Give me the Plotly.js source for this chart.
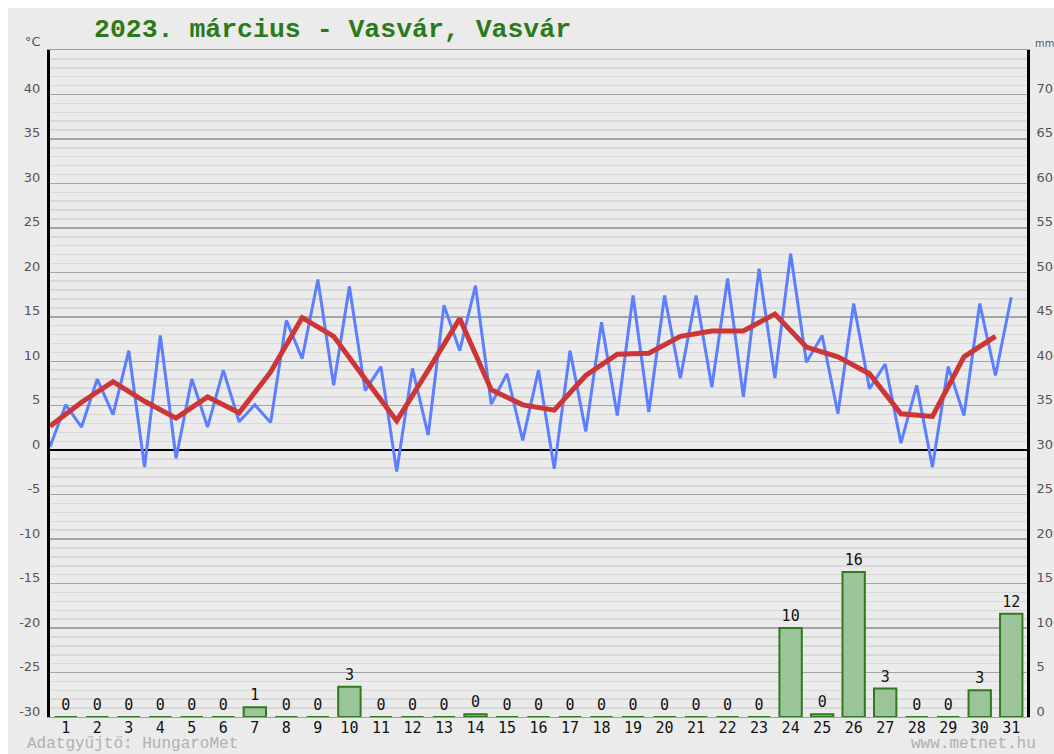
<!DOCTYPE html>
<html>
<head>
<meta charset="utf-8">
<script src="https://cdn.plot.ly/plotly-3.0.1.min.js"></script>
<style>
html,body{margin:0;padding:0;background:#ffffff;}
#chart{position:absolute;left:8px;top:8px;width:1046px;height:746px;}
</style>
</head>
<body>
<div id="chart"></div>
<script>
// Data
const days = [1,2,3,4,5,6,7,8,9,10,11,12,13,14,15,16,17,18,19,20,21,22,23,24,25,26,27,28,29,30,31];
const tMin = [0.4,2.6,4.0,-1.9,-0.9,2.6,3.2,3.1,10.3,7.3,6.7,-2.4,1.7,11.2,5.2,1.1,-2.1,2.1,3.9,4.3,8.1,7.1,6.0,8.1,9.9,4.1,6.9,0.8,-1.9,3.9,8.4];
const tMax = [5.1,8.0,11.2,12.9,8.0,9.0,5.1,14.6,19.2,18.4,9.4,9.2,16.3,18.5,8.6,9.0,11.2,14.4,17.4,17.4,17.4,19.3,20.4,22.1,12.9,16.5,9.7,7.3,9.4,16.5,17.2];
const tMean = [2.7,5.4,7.7,5.5,3.6,6.0,4.2,8.8,14.9,12.8,8.0,3.3,9.0,14.8,6.8,5.1,4.5,8.4,10.8,10.9,12.8,13.4,13.4,15.3,11.6,10.5,8.6,4.1,3.8,10.5,12.8];
const precip = [0,0,0,0,0,0,1.1,0,0,3.4,0,0,0,0.3,0,0,0,0,0,0,0,0,0,10.0,0.3,16.3,3.2,0,0,3.0,11.6];
const tempTicks = [-30,-25,-20,-15,-10,-5,0,5,10,15,20,25,30,35,40];
const mmTicks = [0,5,10,15,20,25,30,35,40,45,50,55,60,65,70];

const titleText = "2023. március - Vasvár, Vasvár";

// min at start of day (d-0.5), max at the day centre (d)
const blueX = [], blueY = [];
days.forEach((d,i)=>{ blueX.push(d-0.5, d); blueY.push(tMin[i], tMax[i]); });
const redX = days.map(d=>d-0.5);

const traces = [
  {
    type:'bar', x:days, y:precip, yaxis:'y2',
    width:0.71,
    marker:{color:'#9cc49a', line:{color:'#2f7a1c', width:2}},
    text:precip.map(v=>String(Math.round(v))),
    textposition:'outside', constraintext:'none', cliponaxis:false,
    textfont:{family:'DejaVu Sans Mono, monospace', size:15, color:'#111'},
    hoverinfo:'skip', showlegend:false
  },
  {
    type:'scatter', mode:'lines', x:blueX, y:blueY,
    line:{color:'#5c7fff', width:3},
    hoverinfo:'skip', showlegend:false
  },
  {
    type:'scatter', mode:'lines', x:redX, y:tMean,
    line:{color:'#cc3636', width:5},
    hoverinfo:'skip', showlegend:false
  }
];

const layout = {
  width:1046, height:746,
  margin:{l:42, r:27, t:42, b:37},
  paper_bgcolor:'#ebebeb', plot_bgcolor:'#ebebeb',
  showlegend:false,
  xaxis:{
    range:[0.5,31.5], tickmode:'array', tickvals:days, ticktext:days.map(String),
    showgrid:false, zeroline:false, ticks:'', ticklabelstandoff:-3,
    showline:true, linecolor:'#a0a0a0', linewidth:1, mirror:true,
    tickfont:{family:'DejaVu Sans Mono, monospace', size:15, color:'#111'},
    fixedrange:true
  },
  yaxis:{
    range:[-30,45], tickmode:'array', tickvals:tempTicks, ticktext:tempTicks.map(String),
    showgrid:true, gridcolor:'#a4a4a4', gridwidth:1.5,
    minor:{dtick:1, showgrid:true, gridcolor:'#d9d9d9', gridwidth:1.5},
    zeroline:true, zerolinecolor:'#000', zerolinewidth:2,
    showline:true, linecolor:'#000', linewidth:3,
    ticks:'', ticklabelstandoff:4, ticklabelshift:-6,
    tickfont:{family:'DejaVu Sans, sans-serif', size:13, color:'#555'},
    fixedrange:true
  },
  yaxis2:{
    overlaying:'y', side:'right', range:[0,75],
    tickmode:'array', tickvals:mmTicks, ticktext:mmTicks.map(String),
    showgrid:false, zeroline:false,
    showline:true, linecolor:'#000', linewidth:3,
    ticks:'', ticklabelstandoff:4, ticklabelshift:-6,
    tickfont:{family:'DejaVu Sans, sans-serif', size:13, color:'#555'},
    fixedrange:true
  },
  annotations:[
    {text:titleText, xref:'paper', yref:'paper', x:0.043, y:1.030, xanchor:'left', yanchor:'middle',
     showarrow:false, font:{family:'Liberation Mono, Courier New, monospace', size:26.5, color:'#2a7a1a', weight:'bold'}},
    {text:'°C', xref:'paper', yref:'paper', x:-0.0174, y:1.012, xanchor:'center', yanchor:'middle',
     showarrow:false, font:{family:'DejaVu Sans, sans-serif', size:13, color:'#555'}},
    {text:'mm', xref:'paper', yref:'paper', x:1.006, y:1.009, xanchor:'left', yanchor:'middle',
     showarrow:false, font:{family:'DejaVu Sans Condensed, DejaVu Sans, sans-serif', size:11, color:'#555'}},
    {text:'Adatgyűjtő: HungaroMet', xref:'paper', yref:'paper', x:-0.0256, y:-0.041, xanchor:'left', yanchor:'middle',
     showarrow:false, font:{family:'Liberation Mono, Courier New, monospace', size:16, color:'#b0b0b0'}},
    {text:'www.metnet.hu', xref:'paper', yref:'paper', x:1.0113, y:-0.041, xanchor:'right', yanchor:'middle',
     showarrow:false, font:{family:'Liberation Mono, Courier New, monospace', size:16, color:'#b0b0b0'}}
  ]
};

Plotly.newPlot('chart', traces, layout, {displayModeBar:false, staticPlot:true});
</script>
</body>
</html>
